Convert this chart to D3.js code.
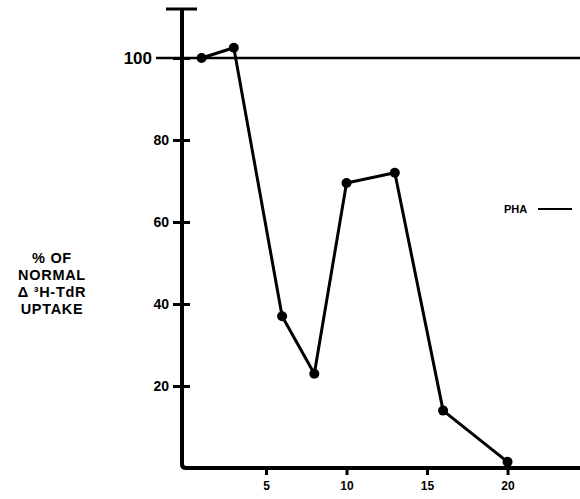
<!DOCTYPE html>
<meta charset="utf-8">
<style>
  body { margin: 0; background: #fff; }
  svg { display: block; font-family: 'Liberation Sans', Arial, sans-serif; font-weight: bold; }
  .tick text { fill: #000; }
  .domain { display: none; }
</style>
<script src="https://d3js.org/d3.v7.min.js"></script>
<div id="chart"></div>
<script>
  // data
  const days = [1, 3, 6, 8, 10, 13, 16, 20];
  const uptake = [100, 102.5, 37, 23, 69.5, 72, 14, 1.5];
  const xTicks = [5, 10, 15, 20];
  const yTicks = [20, 40, 60, 80, 100];
  const yLabel = ["% OF", "NORMAL", "Δ ³H-TdR", "UPTAKE"];

  const W = 580, H = 499;
  const svg = d3.select("#chart").append("svg")
      .attr("width", W).attr("height", H);

  const x = d3.scaleLinear().domain([0, 24.5]).range([185.5, 580]);
  const y = d3.scaleLinear().domain([0, 100]).range([468, 58]);
  const axisX = 182, axisTop = 9;

  // axes frame (L shape with rounded corner) and cap at the top
  svg.append("path")
      .attr("d", `M${axisX},${axisTop} L${axisX},${y(0) - 4} Q${axisX},${y(0)} ${axisX + 4},${y(0)} L${W},${y(0)}`)
      .attr("fill", "none").attr("stroke", "#000").attr("stroke-width", 4);
  svg.append("line")
      .attr("x1", axisX - 16).attr("x2", axisX + 15)
      .attr("y1", axisTop).attr("y2", axisTop)
      .attr("stroke", "#000").attr("stroke-width", 3);

  // y axis
  const gy = svg.append("g").attr("transform", `translate(${axisX + 8},0)`)
      .call(d3.axisLeft(y).tickValues(yTicks).tickSize(17).tickPadding(4).tickSizeOuter(0));
  gy.selectAll(".tick line").attr("stroke", "#000").attr("stroke-width", 3);
  gy.selectAll(".tick text").style("font-size", d => d === 100 ? "17px" : "14px")
      .attr("dx", d => d === 100 ? -17 : 0);

  // reference line at 100%
  svg.append("line")
      .attr("x1", 156).attr("x2", W)
      .attr("y1", y(100)).attr("y2", y(100))
      .attr("stroke", "#000").attr("stroke-width", 2.5);

  // x axis
  const gx = svg.append("g").attr("transform", `translate(0,${y(0)})`)
      .call(d3.axisBottom(x).tickValues(xTicks).tickSize(7).tickPadding(6).tickSizeOuter(0));
  gx.selectAll(".tick line").attr("stroke", "#000").attr("stroke-width", 3);
  gx.selectAll(".tick text").style("font-size", "12px");

  // data line
  const pts = days.map((d, i) => [d, uptake[i]]);
  svg.append("path").datum(pts)
      .attr("fill", "none").attr("stroke", "#000").attr("stroke-width", 3)
      .attr("stroke-linejoin", "round")
      .attr("d", d3.line().x(d => x(d[0])).y(d => y(d[1])));
  svg.selectAll("circle.pt").data(pts).join("circle")
      .attr("class", "pt")
      .attr("cx", d => x(d[0])).attr("cy", d => y(d[1]))
      .attr("r", 5).attr("fill", "#000");

  // legend
  svg.append("text").attr("x", 504).attr("y", 213)
      .style("font-size", "11px").text("PHA");
  svg.append("line").attr("x1", 538).attr("x2", 572)
      .attr("y1", 209).attr("y2", 209)
      .attr("stroke", "#000").attr("stroke-width", 2);

  // y axis title
  svg.append("text").attr("text-anchor", "middle")
      .style("font-size", "14.5px").style("letter-spacing", "0.7px")
      .selectAll("tspan").data(yLabel).join("tspan")
      .attr("x", 52).attr("y", (d, i) => 263 + i * 17)
      .text(d => d);
</script>
